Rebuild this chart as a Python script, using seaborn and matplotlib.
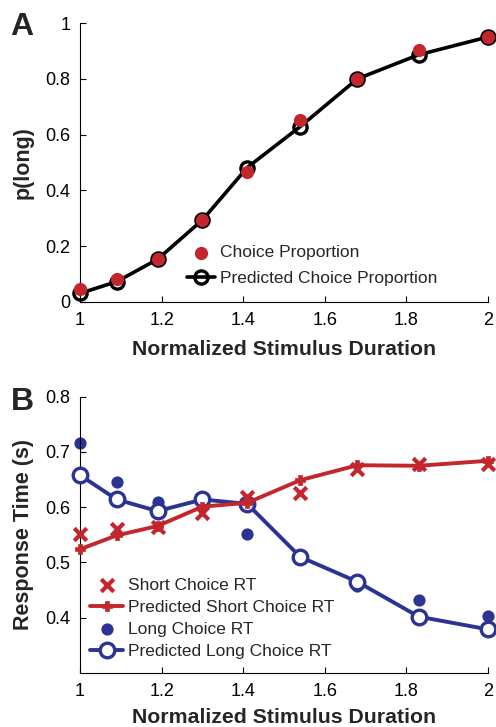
import numpy as np
import pandas as pd
import matplotlib
matplotlib.use("Agg")
import matplotlib.pyplot as plt
import seaborn as sns
from matplotlib.ticker import FuncFormatter

# ---- data ----
duration = [1.0, 1.09, 1.19, 1.30, 1.41, 1.54, 1.68, 1.83, 2.0]
choice_prop = [0.045, 0.081, 0.153, 0.294, 0.465, 0.653, 0.800, 0.904, 0.950]
pred_choice_prop = [0.031, 0.073, 0.153, 0.294, 0.482, 0.629, 0.800, 0.886, 0.950]

short_rt = [0.551, 0.560, 0.565, 0.589, 0.619, 0.626, 0.670, 0.679, 0.678]
pred_short_rt = [0.524, 0.549, 0.566, 0.601, 0.608, 0.649, 0.676, 0.675, 0.684]
long_rt = [0.717, 0.646, 0.610, 0.612, 0.551, 0.510, 0.457, 0.432, 0.403]
pred_long_rt = [0.658, 0.614, 0.593, 0.614, 0.606, 0.510, 0.465, 0.402, 0.379]

x_ticks = [1, 1.2, 1.4, 1.6, 1.8, 2]
a_yticks = [0, 0.2, 0.4, 0.6, 0.8, 1]
b_yticks = [0.4, 0.5, 0.6, 0.7, 0.8]

RED = "#C4262D"
BLUE = "#2B3393"

sns.set_style("ticks")
plt.rcParams["font.family"] = ["Liberation Sans", "DejaVu Sans"]

fig = plt.figure(figsize=(4.96, 7.27), dpi=100)
axA = fig.add_axes([80/496, 1-302/727, 408/496, 279/727])
axB = fig.add_axes([80/496, 1-673/727, 408/496, 276.3/727])

fmt = FuncFormatter(lambda v, p: ("%g" % round(v, 3)))

def style(ax):
    sns.despine(ax=ax)
    for s in ["left", "bottom"]:
        ax.spines[s].set_color("black")
        ax.spines[s].set_linewidth(0.8)
    ax.tick_params(direction="in", length=4, width=0.8, labelsize=13, colors="black", pad=7)
    ax.xaxis.set_major_formatter(fmt)
    ax.yaxis.set_major_formatter(fmt)
    ax.set_xlim(1, 2)
    ax.set_xticks(x_ticks)

# ---- Panel A ----
dfA = pd.DataFrame({"d": duration, "p": choice_prop, "pp": pred_choice_prop})
sns.lineplot(data=dfA, x="d", y="pp", ax=axA, color="black", lw=2.6, marker="o",
             ms=9.5, mfc="none", mec="black", mew=2.4, clip_on=False,
             label="Predicted Choice Proportion")
sns.scatterplot(data=dfA, x="d", y="p", ax=axA, color=RED, s=9.5**2, linewidth=0,
                clip_on=False, zorder=5, label="Choice Proportion")
style(axA)
axA.set_ylim(0, 1)
axA.set_yticks(a_yticks)
axA.set_xlabel("Normalized Stimulus Duration", fontsize=15.3, fontweight="bold", labelpad=8)
axA.set_ylabel("p(long)", fontsize=15.5, fontweight="bold", labelpad=8)
h, l = axA.get_legend_handles_labels()
order = ["Choice Proportion", "Predicted Choice Proportion"]
hd = dict(zip(l, h))
axA.legend([hd[k] for k in order], order, loc="upper left", bbox_to_anchor=(0.262, 0.2035),
           frameon=False, fontsize=12.5, handlelength=1.6, handletextpad=0.3,
           labelspacing=0.58, borderpad=0, borderaxespad=0)

# ---- Panel B ----
dfB = pd.DataFrame({"d": duration, "s": short_rt, "ps": pred_short_rt,
                    "l": long_rt, "pl": pred_long_rt})
sns.scatterplot(data=dfB, x="d", y="l", ax=axB, color=BLUE, s=8.8**2, linewidth=0,
                clip_on=False, zorder=2, label="Long Choice RT")
sns.lineplot(data=dfB, x="d", y="pl", ax=axB, color=BLUE, lw=2.8, marker="o",
             ms=10.5, mfc="white", mec=BLUE, mew=2.4, clip_on=False, zorder=3,
             label="Predicted Long Choice RT")
sns.lineplot(data=dfB, x="d", y="ps", ax=axB, color=RED, lw=2.8, marker="P",
             ms=6.5, mfc=RED, mec=RED, mew=0.5, clip_on=False, zorder=4,
             label="Predicted Short Choice RT")
sns.scatterplot(data=dfB, x="d", y="s", ax=axB, color=RED, marker="x", s=9**2,
                linewidth=3, clip_on=False, zorder=5, label="Short Choice RT")
style(axB)
axB.set_ylim(0.3, 0.8)
axB.set_yticks(b_yticks)
axB.set_xlabel("Normalized Stimulus Duration", fontsize=15.3, fontweight="bold", labelpad=6)
axB.set_ylabel("Response Time (s)", fontsize=15.5, fontweight="bold", labelpad=8)
h, l = axB.get_legend_handles_labels()
order = ["Short Choice RT", "Predicted Short Choice RT", "Long Choice RT", "Predicted Long Choice RT"]
hd = dict(zip(l, h))
axB.legend([hd[k] for k in order], order, loc="upper left", bbox_to_anchor=(0.025, 0.345),
           frameon=False, fontsize=12.5, handlelength=1.9, handletextpad=0.3,
           labelspacing=0.39, borderpad=0, borderaxespad=0)

fig.text(10/496, 1-35/727, "A", fontsize=23, fontweight="bold", ha="left", va="baseline")
fig.text(11/496, 1-410/727, "B", fontsize=23, fontweight="bold", ha="left", va="baseline")

fig.savefig("out.png", dpi=100)
